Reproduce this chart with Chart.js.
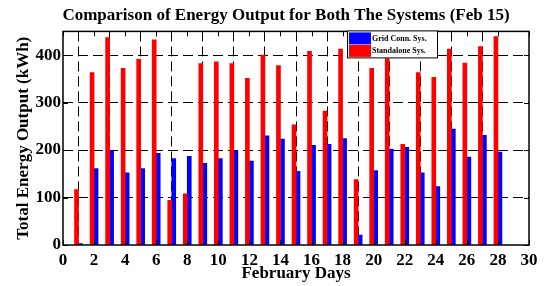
<!DOCTYPE html>
<html>
<head>
<meta charset="utf-8">
<script src="https://cdn.jsdelivr.net/npm/chart.js@4"></script>
<style>
  html, body { margin: 0; padding: 0; background: #fff; }
  #chart { display: block; }
</style>
</head>
<body>
<canvas id="chart" width="545" height="286"></canvas>
<script>
// 数据
const days = [1, 2, 3, 4, 5, 6, 7, 8, 9, 10, 11, 12, 13, 14, 15, 16, 17, 18, 19, 20, 21, 22, 23, 24, 25, 26, 27, 28];
const gridConn = [3, 161, 198, 152, 161, 193, 182, 187, 172, 182, 199, 177, 230, 223, 155,
  210, 212, 224, 21, 157, 202, 206, 152, 123, 244, 185, 231, 196];
const standalone = [117, 363, 437, 372, 391, 432, 94, 108, 382, 386, 382, 351, 400, 378, 253,
  408, 282, 413, 138, 372, 393, 212, 363, 353, 413, 383, 418, 439];
const xTicks = [0, 2, 4, 6, 8, 10, 12, 14, 16, 18, 20, 22, 24, 26, 28, 30];
const yTicks = [0, 100, 200, 300, 400];
const seriesNames = ['Grid Conn. Sys.', 'Standalone Sys.'];

const serif = '"Liberation Serif", "Times New Roman", serif';

// 图框、内向刻度和图例
const framePlugin = {
  id: 'frame',
  afterLayout(chart) {
    // 标题居中位置向右移一点
    const t = chart.titleBlock;
    if (t) { t.left = 27; t.right = 545; t.width = t.right - t.left; }
  },
  afterDraw(chart) {
    const { ctx, chartArea: a, scales } = chart;
    ctx.save();
    ctx.strokeStyle = '#000';
    ctx.lineWidth = 1.5;
    ctx.strokeRect(a.left, a.top, a.right - a.left, a.bottom - a.top);

    // 内向刻度
    ctx.lineWidth = 1;
    xTicks.forEach(v => {
      const px = Math.round(scales.x.getPixelForValue(v)) + 0.5;
      ctx.beginPath();
      ctx.moveTo(px, a.bottom); ctx.lineTo(px, a.bottom - 5);
      ctx.moveTo(px, a.top); ctx.lineTo(px, a.top + 5);
      ctx.stroke();
    });
    yTicks.forEach(v => {
      const py = Math.round(scales.y.getPixelForValue(v)) + 0.5;
      ctx.beginPath();
      ctx.moveTo(a.left, py); ctx.lineTo(a.left + 5, py);
      ctx.moveTo(a.right, py); ctx.lineTo(a.right - 5, py);
      ctx.stroke();
    });

    // 图例
    const w = a.right - a.left;
    const lx = Math.round(a.left + w * 0.61);
    const ly = a.top - 1;
    const lw = 90, lh = 27;
    ctx.fillStyle = '#fff';
    ctx.fillRect(lx, ly, lw, lh);
    ctx.strokeStyle = '#000';
    ctx.lineWidth = 1;
    ctx.strokeRect(lx + 0.5, ly + 0.5, lw, lh);
    const colors = ['#0000ff', '#ff0000'];
    ctx.font = 'bold 8px ' + serif;
    ctx.textBaseline = 'middle';
    seriesNames.forEach((name, i) => {
      const sy = ly + 2 + i * 12.5;
      ctx.fillStyle = colors[i];
      ctx.fillRect(lx + 2, sy, 22, 12);
      ctx.fillStyle = '#000';
      ctx.fillText(name, lx + 25, sy + 6.5);
    });
    ctx.restore();
  }
};

const dashedGrid = {
  color: ctx => (ctx.tick && (ctx.tick.value === 0 || ctx.tick.value === 30 || ctx.tick.value === 450)) ? 'rgba(0,0,0,0)' : '#000',
  lineWidth: 1,
  drawTicks: false,
  tickLength: 0
};

new Chart(document.getElementById('chart'), {
  type: 'bar',
  data: {
    datasets: [{
      label: seriesNames[1],
      data: days.map((d, i) => ({ x: d, y: standalone[i] })),
      backgroundColor: '#ff0000',
      borderWidth: 0,
      barThickness: 4,
    }, {
      label: seriesNames[0],
      data: days.map((d, i) => ({ x: d, y: gridConn[i] })),
      backgroundColor: '#0000ff',
      borderWidth: 0,
      barThickness: 4,
    }]
  },
  options: {
    responsive: false,
    animation: false,
    layout: {
      padding: { left: 13, right: 16, top: 0, bottom: 0 }
    },
    plugins: {
      legend: { display: false },
      tooltip: { enabled: false },
      title: {
        display: true,
        text: 'Comparison of Energy Output for Both The Systems (Feb 15)',
        color: '#000',
        font: { family: serif, size: 17, weight: 'bold', lineHeight: 1.2 },
        padding: { top: 5, bottom: 6 }
      }
    },
    scales: {
      x: {
        type: 'linear',
        min: 0,
        max: 30,
        offset: false,
        afterBuildTicks: scale => { scale.ticks = xTicks.map(v => ({ value: v })); },
        afterFit: scale => { scale.height = 41; },
        ticks: {
          color: '#000',
          padding: 5,
          maxRotation: 0,
          autoSkip: false,
          font: { family: serif, size: 17, weight: 'bold' }
        },
        grid: Object.assign({ }, dashedGrid),
        border: { display: false, dash: [10, 5] },
        title: {
          display: true,
          text: 'February Days',
          color: '#000',
          font: { family: serif, size: 17, weight: 'bold', lineHeight: 1.2 },
          padding: { top: 0, bottom: 2 }
        }
      },
      y: {
        min: 0,
        max: 450,
        afterBuildTicks: scale => { scale.ticks = yTicks.map(v => ({ value: v })); },
        afterFit: scale => { scale.width = 50; },
        ticks: {
          color: '#000',
          padding: 2,
          font: { family: serif, size: 17, weight: 'bold' }
        },
        grid: Object.assign({ }, dashedGrid),
        border: { display: false, dash: [10, 5] },
        title: {
          display: true,
          text: 'Total Energy Output (kWh)',
          color: '#000',
          font: { family: serif, size: 17, weight: 'bold', lineHeight: 1.2 },
          padding: 0
        }
      }
    }
  },
  plugins: [framePlugin]
});
</script>
</body>
</html>
